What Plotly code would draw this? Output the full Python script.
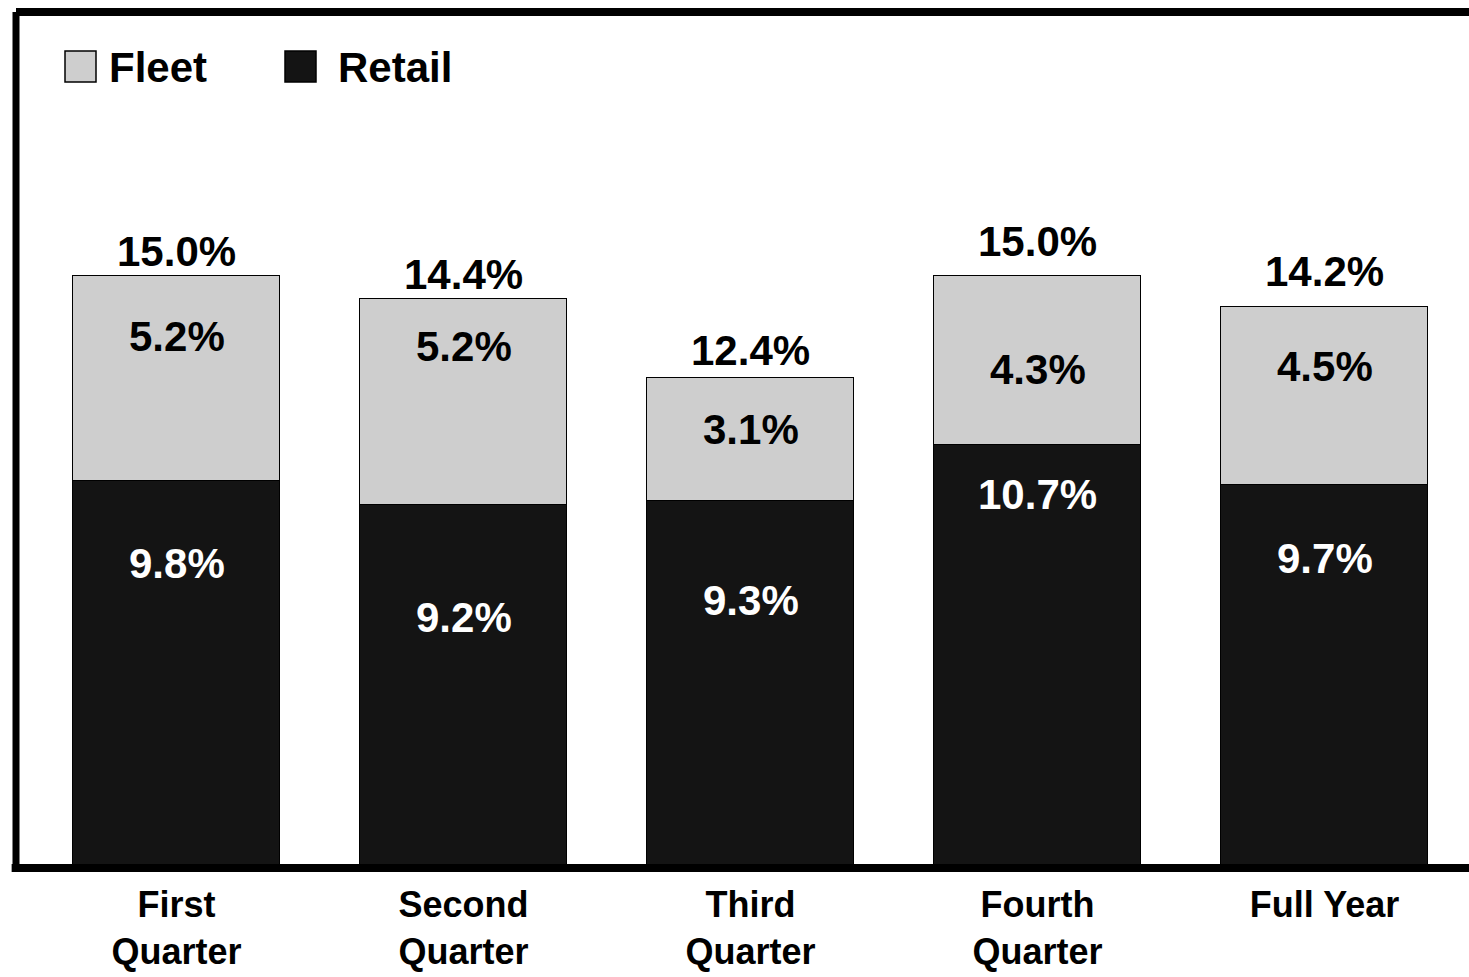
import plotly.graph_objects as go

# ---- data ----
categories = ["First<br>Quarter", "Second<br>Quarter", "Third<br>Quarter", "Fourth<br>Quarter", "Full Year"]
retail = [9.8, 9.2, 9.3, 10.7, 9.7]
fleet = [5.2, 5.2, 3.1, 4.3, 4.5]
totals = [15.0, 14.4, 12.4, 15.0, 14.2]

# ---- style ----
W, H = 1469, 977
ML, MR, MT, MB = 16, 0, 12, 109
PW, PH = W - ML - MR, H - MT - MB
FLEET_COLOR = "#cecece"
RETAIL_COLOR = "#141414"
LABEL_FONT = dict(family="Arial, Liberation Sans, Helvetica, sans-serif", size=42, weight="bold")
TICK_FONT = dict(family="Arial, Liberation Sans, Helvetica, sans-serif",
                 size=36, weight="bold", color="black")
# label pixel offsets (visual placement as in the original)
total_shift = [24, 25, 28, 34, 36]
fleet_shift = [144, 158, 71, 76, 118]
retail_shift = [305, 251, 268, 374, 310]

fig = go.Figure()
fig.add_trace(go.Bar(x=categories, y=retail, name="Retail", marker=dict(color=RETAIL_COLOR,
                     line=dict(color="black", width=1.5)), width=0.72, hoverinfo="skip"))
fig.add_trace(go.Bar(x=categories, y=fleet, name="Fleet", marker=dict(color=FLEET_COLOR,
                     line=dict(color="black", width=1.5)), width=0.72, hoverinfo="skip"))

ann = []
for i, c in enumerate(categories):
    ann.append(dict(x=c, y=totals[i], text=f"{totals[i]:.1f}%", showarrow=False, yanchor="middle",
                    yshift=total_shift[i], font=dict(**LABEL_FONT, color="black")))
    ann.append(dict(x=c, y=retail[i], text=f"{fleet[i]:.1f}%", showarrow=False, yanchor="middle",
                    yshift=fleet_shift[i], font=dict(**LABEL_FONT, color="black")))
    ann.append(dict(x=c, y=0, text=f"{retail[i]:.1f}%", showarrow=False, yanchor="middle",
                    yshift=retail_shift[i], font=dict(**LABEL_FONT, color="white")))


def px(xp):
    return (xp - ML) / PW


def py(yp):
    return (H - MB - yp) / PH


# custom legend
legend_items = [("Fleet", FLEET_COLOR, 65, 107), ("Retail", RETAIL_COLOR, 285, 336)]
shapes = []
for name, col, sx, tx in legend_items:
    shapes.append(dict(type="rect", xref="paper", yref="paper", x0=px(sx), x1=px(sx + 31),
                       y0=py(82), y1=py(51), fillcolor=col, line=dict(color="black", width=1.5)))
    ann.append(dict(xref="paper", yref="paper", x=px(tx), y=py(67), xanchor="left", yanchor="middle",
                    text=name, showarrow=False, font=dict(**LABEL_FONT, color="black", )))

# frame
shapes += [
    dict(type="line", xref="paper", yref="paper", x0=0, x1=0, y0=0, y1=1, line=dict(color="black", width=7)),
    dict(type="line", xref="paper", yref="paper", x0=0, x1=1.01, y0=1, y1=1, line=dict(color="black", width=8)),
    dict(type="line", xref="paper", yref="paper", x0=-0.003, x1=1.01, y0=0, y1=0, line=dict(color="black", width=8)),
]

unit = 287.0
x0c = 176.5
fig.update_layout(
    width=W, height=H, margin=dict(l=ML, r=MR, t=MT, b=MB, pad=0, autoexpand=False),
    barmode="stack", showlegend=False, bargap=0,
    plot_bgcolor="white", paper_bgcolor="white",
    xaxis=dict(range=[-(x0c - ML) / unit, (W - ML - (x0c - ML)) / unit], showgrid=False, showline=False,
               zeroline=False, ticks="", tickfont=TICK_FONT, ticklabelstandoff=12, automargin=False),
    yaxis=dict(range=[0, PH / 39.5], visible=False, showgrid=False, zeroline=False, automargin=False),
    annotations=ann, shapes=shapes,
)

fig.write_html("out.html")
